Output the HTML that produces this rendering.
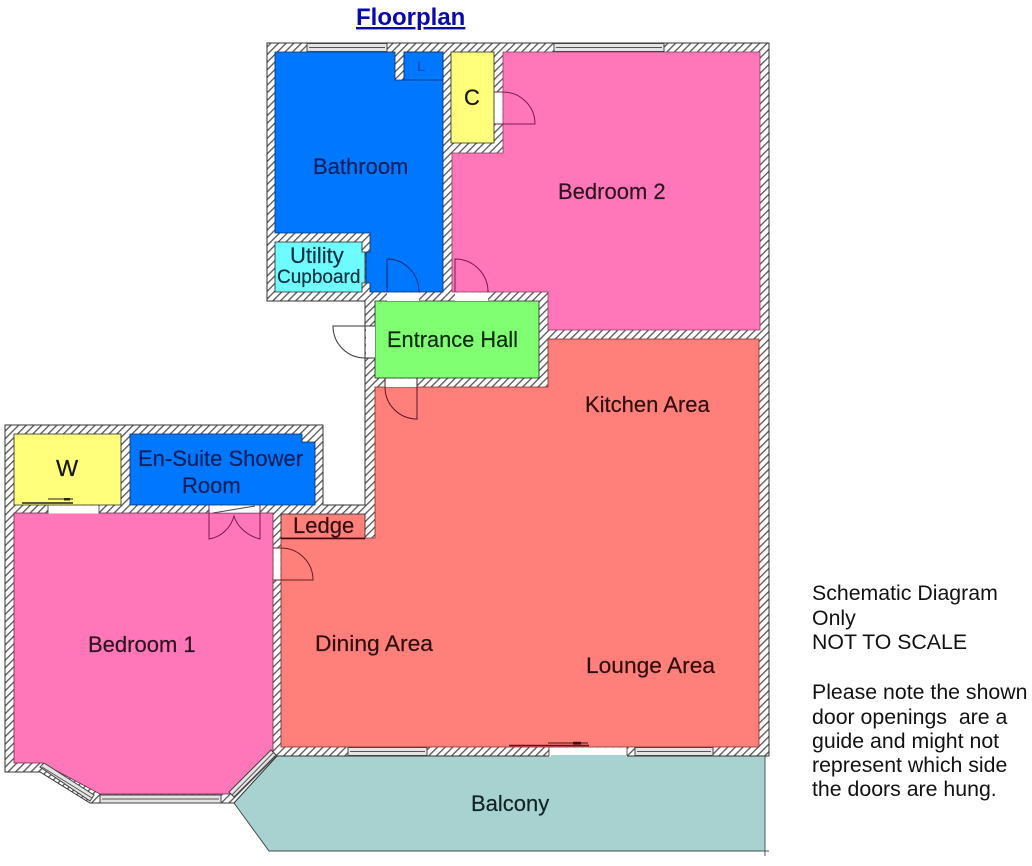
<!DOCTYPE html>
<html>
<head>
<meta charset="utf-8">
<title>Floorplan</title>
<style>
html,body{margin:0;padding:0;background:#fff;width:1032px;height:866px;overflow:hidden}
svg{display:block}
text{font-family:"Liberation Sans",Arial,sans-serif;font-size:22px}
</style>
</head>
<body>
<svg width="1032" height="866" viewBox="0 0 1032 866" xmlns="http://www.w3.org/2000/svg">
<defs>
<pattern id="h" width="5.4" height="5.4" patternUnits="userSpaceOnUse" patternTransform="rotate(45)">
<rect width="5.4" height="5.4" fill="#fff"/>
<rect x="0" y="0" width="1.3" height="5.4" fill="#555"/>
</pattern>
</defs>

<!-- balcony -->
<polygon points="277,756 765,756 765,851 269,851 234,803" fill="#a8d2d0"/>
<polyline points="234,803 269,851 765,851" fill="none" stroke="#3d4a4c" stroke-width="1"/>
<path d="M765 756V856M761 851H769" fill="none" stroke="#4a5658" stroke-width="1"/>

<!-- walls -->
<polygon points="267,43 769,43 769,756 277,756 234,803 90,803 40,772 5,772 5,425 323,425 323,505 365,505 365,301 267,301" fill="url(#h)" stroke="#333" stroke-width="1"/>

<!-- rooms -->
<g stroke="#222" stroke-width="0.8">
<polygon points="275,52 395,52 395,80 404,80 404,52 443,52 443,292 370,292 370,283 366,283 366,252 370,252 370,233 275,233" fill="#0077ff" stroke="#0a2a60"/>
<polygon points="404,52 443,52 443,80 404,80" fill="#0077ff" stroke="#0a2a60"/>
<polygon points="275,242 362,242 362,252 365,252 365,283 362,283 362,292 275,292" fill="#6ffcff"/>
<polygon points="451,52 494,52 494,143 451,143" fill="#ffff7c"/>
<polygon points="503,52 760,52 760,330 548,330 548,292 452,292 452,153 503,153" fill="#ff77b8" stroke="#8a3a60"/>
<polygon points="375,301 539,301 539,378 375,378" fill="#80ff72"/>
<polygon points="375,387 548,387 548,339 759,339 759,747 281,747 281,538 375,538" fill="#ff7f7a" stroke="#7a2a28"/>
<polygon points="281,514 365,514 365,538 281,538" fill="#ff7f7a"/>
<polygon points="14,434 121,434 121,505 14,505" fill="#ffff7c"/>
<polygon points="130,434 302,434 302,442 315,442 315,505 130,505" fill="#0077ff" stroke="#0a2a60"/>
<polygon points="14,513 273,513 273,752 229,794 100,794 42,763 14,763" fill="#ff77b8" stroke="#6a2a48"/>
</g>
<path d="M281 538.5H365" stroke="#400" stroke-width="1.4"/>

<!-- door openings -->
<g fill="#fff">
<rect x="387" y="292.5" width="32" height="8.5"/>
<rect x="455" y="292.5" width="33" height="8.5"/>
<rect x="366" y="326" width="9" height="32"/>
<rect x="385" y="378.5" width="32" height="8.5"/>
<rect x="494.5" y="92" width="8" height="32"/>
<rect x="273.5" y="548" width="7" height="32"/>
<rect x="209" y="505.5" width="51" height="7.5"/>
<rect x="48" y="505.5" width="51" height="8"/>
<rect x="549" y="747.5" width="78" height="9"/>
</g>
<path d="M48 505.5V513.5M99 505.5V513.5M549 747.5V756M627 747.5V756" stroke="#333" stroke-width="0.8"/>
<rect x="551" y="755" width="75" height="2" fill="#a8d2d0"/>

<!-- door leaves -->
<g fill="none" stroke-width="1">
<path d="M387 292V259A32 33 0 0 1 419 292" stroke="#0a2a70"/>
<path d="M455 292V259A33 33 0 0 1 488 292" stroke="#7a1850"/>
<path d="M375 326H333A32 32 0 0 0 365 358H375" stroke="#333"/>
<path d="M385 378V387A32 32 0 0 0 417 419V378" stroke="#5a1420"/>
<path d="M494 92H503A32 32 0 0 1 535 124H494" stroke="#7a1850"/>
<path d="M273 548H281A32 32 0 0 1 313 580H273" stroke="#6a1c20"/>
<path d="M209 505V539C222 537 231 527 234 516C237 527 248 536 260 539V505" stroke="#7a1850"/>
<path d="M213 513L255 506" stroke="#444"/>
<path d="M209 513H260" stroke="#7a1850" stroke-width="0.5"/>
</g>

<!-- sliding doors -->
<g stroke="#222" fill="#222">
<path d="M22 503H73" stroke-width="1.6" fill="none"/>
<path d="M48 499H73" stroke-width="1" fill="none"/>
<rect x="64" y="498" width="6" height="2.4" stroke="none"/>
<path d="M509 745.5H589" stroke-width="1.6" stroke="#5a1a1a" fill="none"/>
<path d="M548 743H588" stroke-width="1" stroke="#3a1010" fill="none"/>
<rect x="573" y="741.8" width="8" height="2.6" stroke="none" fill="#3a1010"/>
</g>

<!-- windows -->
<g fill="#e4e4e4" stroke="#444" stroke-width="1">
<rect x="307" y="43.5" width="80" height="8"/>
<rect x="554" y="43.5" width="110" height="8"/>
<rect x="348" y="747.5" width="79" height="8"/>
<rect x="635" y="747.5" width="78" height="8"/>
<rect x="100" y="795" width="121" height="8"/>
<polygon points="40,767 44,763 94,795 90,801"/>
<polygon points="234,797 229,792 271,750 276,755"/>
</g>
<g fill="none" stroke="#555" stroke-width="1">
<path d="M309 47.5H385M556 47.5H662M350 751.5H425M637 751.5H711M102 799H219M42 767L92 798M232 795L274 752"/>
</g>

<!-- labels -->
<text x="356" y="25" font-weight="bold" style="font-size:24px" fill="#0a0aa8" text-decoration="underline">Floorplan</text>
<g fill="#04205c" stroke="#04205c" stroke-width="0.2">
<text x="313" y="174">Bathroom</text>
<text x="138" y="466">En-Suite Shower</text>
<text x="182" y="493">Room</text>
</g>
<text x="417" y="71" style="font-size:14.5px" fill="#0a4aa8">L</text>
<g fill="#063040" stroke="#063040" stroke-width="0.2">
<text x="290" y="263">Utility</text>
<text x="277" y="283" style="font-size:19px">Cupboard</text>
</g>
<g fill="#141404" stroke="#141404" stroke-width="0.2">
<text x="464" y="105">C</text>
<text x="56" y="476" style="font-size:23.5px">W</text>
</g>
<g fill="#2e1220" stroke="#2e1220" stroke-width="0.2">
<text x="558" y="199">Bedroom 2</text>
<text x="88" y="652">Bedroom 1</text>
</g>
<text x="387" y="347" fill="#062806" stroke="#062806" stroke-width="0.2" textLength="131" lengthAdjust="spacingAndGlyphs">Entrance Hall</text>
<g fill="#300e0e" stroke="#300e0e" stroke-width="0.2">
<text x="585" y="412">Kitchen Area</text>
<text x="315" y="651" textLength="118" lengthAdjust="spacingAndGlyphs">Dining Area</text>
<text x="586" y="673" textLength="129" lengthAdjust="spacingAndGlyphs">Lounge Area</text>
<text x="293" y="533">Ledge</text>
</g>
<text x="471" y="811" fill="#102426" stroke="#102426" stroke-width="0.2">Balcony</text>
<g fill="#111">
<text x="812" y="600" style="font-size:21.3px">Schematic Diagram</text>
<text x="812" y="625" style="font-size:21.3px">Only</text>
<text x="812" y="649" style="font-size:21.3px">NOT TO SCALE</text>
<text x="812" y="699" style="font-size:21.3px">Please note the shown</text>
<text x="812" y="724" xml:space="preserve" style="font-size:21.3px;white-space:pre">door openings  are a</text>
<text x="812" y="748" style="font-size:21.3px">guide and might not</text>
<text x="812" y="772" style="font-size:21.3px">represent which side</text>
<text x="812" y="796" style="font-size:21.3px">the doors are hung.</text>
</g>
</svg>
</body>
</html>
